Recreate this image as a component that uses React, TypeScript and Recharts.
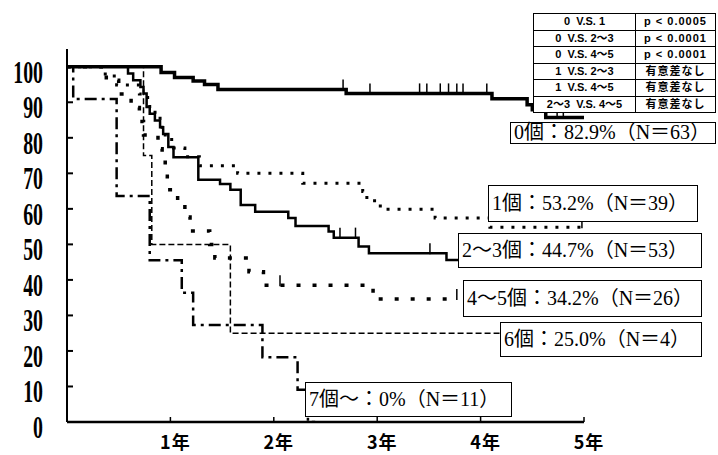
import React from "react";
import { LineChart, Line, XAxis, YAxis } from "recharts";

// 生存曲線（年, %）。各群：イベント時点・生存率・観察終了・打ち切り
const T0 = [0, 0.91, 1.04, 1.22, 1.33, 1.46, 2.7, 4.11, 4.45, 4.5, 4.63];
const S0 = [100, 98.4, 97.0, 96.0, 95.0, 93.6, 92.5, 91.0, 89.3, 87.9, 85.7];
const E0 = 5.0;
const C0 = [2.67, 2.93, 3.41, 3.48, 3.61, 3.69, 3.77, 3.83, 4.06, 4.74, 4.8];

const T1 = [0, 0.37, 0.48, 0.7, 0.78, 0.8, 0.9, 0.92, 0.95, 1.03, 1.14, 1.28, 1.65, 2.28, 2.86, 2.9, 3.03, 3.56, 4.09];
const S1 = [100, 97.4, 94.9, 92.3, 89.7, 87.2, 84.6, 82.1, 79.5, 77.1, 74.7, 72.1, 70.0, 67.2, 64.9, 62.3, 59.9, 57.4, 54.8];
const E1 = 4.98;
const C1 = [4.98];

const T23 = [0, 0.59, 0.64, 0.71, 0.74, 0.77, 0.8, 0.85, 0.9, 0.93, 0.98, 1.03, 1.27, 1.48, 1.58, 1.68, 1.82, 2.14, 2.21, 2.53, 2.58, 2.82, 2.92, 3.67];
const S23 = [100, 98.1, 96.2, 94.3, 92.5, 88.7, 86.8, 84.9, 83.0, 81.1, 77.4, 74.5, 68.2, 67.0, 65.4, 61.1, 59.2, 57.4, 55.2, 53.6, 51.9, 49.4, 47.5, 45.6];
const E23 = 3.8;
const C23 = [2.64, 2.79, 3.51];

const T45 = [0, 0.38, 0.5, 0.62, 0.7, 0.74, 0.88, 0.92, 0.95, 0.97, 1.07, 1.14, 1.19, 1.38, 1.43, 1.76, 1.9, 2.96];
const S45 = [100, 96.2, 92.3, 88.5, 84.6, 80.8, 76.9, 73.1, 69.2, 65.4, 61.5, 57.7, 53.8, 50.0, 46.2, 42.3, 38.5, 34.6];
const E45 = 3.78;
const C45 = [2.06, 3.77];

const T6 = [0, 0.74, 0.82, 1.58];
const S6 = [100, 75, 50, 25];
const E6 = 4.2;
const C6: number[] = [];

const T7 = [0, 0.06, 0.48, 0.8, 1.11, 1.22, 1.89, 2.23, 2.33];
const S7 = [100, 90.9, 63.6, 45.5, 36.4, 27.3, 18.2, 9.1, 0];
const E7 = 2.4;
const C7: number[] = [];

const Y_TICKS = [0, 10, 20, 30, 40, 50, 60, 70, 80, 90, 100];
const X_TICKS = [1, 2, 3, 4, 5];

const LABELS = [
  { text: "0個：82.9%（N＝63）", left: 510, top: 122, width: 206, height: 22 },
  { text: "1個：53.2%（N＝39）", left: 488, top: 185, width: 210, height: 37 },
  { text: "2～3個：44.7%（N＝53）", left: 458, top: 233, width: 244, height: 35 },
  { text: "4～5個：34.2%（N＝26）", left: 463, top: 280, width: 239, height: 37 },
  { text: "6個：25.0%（N＝4）", left: 500, top: 322, width: 202, height: 35 },
  { text: "7個～：0%（N＝11）", left: 305, top: 382, width: 207, height: 35 },
];

const TABLE_L = ["0  V.S. 1", "0  V.S. 2～3", "0  V.S. 4～5", "1  V.S. 2～3", "1  V.S. 4～5", "2～3  V.S. 4～5"];
const TABLE_R = ["p < 0.0005", "p < 0.0001", "p < 0.0001", "有意差なし", "有意差なし", "有意差なし"];

function km(times: number[], surv: number[], end: number, cens: number[]) {
  const pts: { t: number; v: number; c?: boolean }[] = times.map((t, i) => ({ t, v: surv[i] }));
  pts.push({ t: end, v: surv[surv.length - 1] });
  cens.forEach((c) => {
    let v = surv[0];
    times.forEach((t, i) => {
      if (t <= c) v = surv[i];
    });
    pts.push({ t: c, v, c: true });
  });
  return pts.sort((a, b) => a.t - b.t);
}

const censorDot = (p: any) => {
  if (!p.payload || !p.payload.c) return <g key={p.index} />;
  return <line key={p.index} x1={p.cx} x2={p.cx} y1={p.cy - 10} y2={p.cy + 1} stroke="#000" strokeWidth={1.5} />;
};

const YTick = (props: any) => {
  const { x, y, payload } = props;
  return (
    <g>
      <line x1={x} x2={x + 6} y1={y} y2={y} stroke="#000" strokeWidth={2} />
      <text
        transform={`translate(${x - 24},${y + 5}) scale(0.62,1)`}
        textAnchor="end"
        dominantBaseline="central"
        fontFamily="Liberation Serif"
        fontWeight="bold"
        fontSize={32}
        fill="#000"
      >
        {payload.value}
      </text>
    </g>
  );
};

const XTick = (props: any) => {
  const { x, y, payload } = props;
  return (
    <g>
      <line x1={x} x2={x} y1={y} y2={y - 5} stroke="#000" strokeWidth={1.5} />
      <text
        x={x + 5}
        y={y + 27}
        textAnchor="middle"
        fontFamily="Noto Sans CJK JP"
        fontWeight="bold"
        fontSize={18}
        letterSpacing={1}
        fill="#000"
      >
        {payload.value}年
      </text>
    </g>
  );
};

const SERIES = [
  { name: "0個", data: km(T0, S0, E0, C0), w: 3.5, dash: undefined },
  { name: "1個", data: km(T1, S1, E1, C1), w: 3, dash: "3 8" },
  { name: "2～3個", data: km(T23, S23, E23, C23), w: 2.5, dash: undefined },
  { name: "4～5個", data: km(T45, S45, E45, C45), w: 3.5, dash: "4 12" },
  { name: "6個", data: km(T6, S6, E6, C6), w: 1.5, dash: "6 3" },
  { name: "7個～", data: km(T7, S7, E7, C7), w: 2.5, dash: "12 5 3 5" },
];

export default function App() {
  return (
    <div style={{ position: "absolute", left: 0, top: 0, width: 718, height: 455, background: "#fff" }}>
      <LineChart width={718} height={455} margin={{ top: 49, right: 134, bottom: 0, left: 0 }}>
        <XAxis
          type="number"
          dataKey="t"
          domain={[0, 5]}
          ticks={X_TICKS}
          height={33}
          tickSize={0}
          tickMargin={0}
          tickLine={false}
          axisLine={{ stroke: "#000", strokeWidth: 2.5 }}
          tick={<XTick />}
          allowDataOverflow
        />
        <YAxis
          type="number"
          domain={[0, 105]}
          ticks={Y_TICKS}
          width={67}
          tickSize={0}
          tickMargin={0}
          tickLine={false}
          axisLine={{ stroke: "#000", strokeWidth: 2 }}
          tick={<YTick />}
          allowDataOverflow
        />
        {SERIES.map((s) => (
          <Line
            key={s.name}
            data={s.data}
            dataKey="v"
            type="stepAfter"
            stroke="#000"
            strokeWidth={s.w}
            strokeDasharray={s.dash}
            dot={censorDot}
            activeDot={false}
            isAnimationActive={false}
          />
        ))}
      </LineChart>

      <table
        style={{
          position: "absolute",
          left: 533,
          top: 13,
          width: 183,
          height: 100,
          borderCollapse: "collapse",
          background: "#fff",
          fontFamily: "Liberation Sans, Noto Sans CJK JP",
          fontWeight: "bold",
          fontSize: 11,
          lineHeight: "11px",
        }}
      >
        <tbody>
          {TABLE_L.map((l, i) => (
            <tr key={i}>
              <td style={{ border: "1.2px solid #000", width: 101, padding: 0, textAlign: "center", whiteSpace: "pre" }}>{l}</td>
              <td style={{ border: "1.2px solid #000", padding: 0, textAlign: "center", letterSpacing: 1 }}>{TABLE_R[i]}</td>
            </tr>
          ))}
        </tbody>
      </table>

      {LABELS.map((b) => (
        <div
          key={b.text}
          style={{
            position: "absolute",
            left: b.left,
            top: b.top,
            width: b.width,
            height: b.height,
            boxSizing: "border-box",
            border: "1.5px solid #000",
            background: "#fff",
            fontFamily: "Liberation Serif, Noto Sans CJK JP",
            fontSize: 20,
            lineHeight: `${b.height - 3}px`,
            paddingLeft: 3,
            whiteSpace: "nowrap",
          }}
        >
          {b.text}
        </div>
      ))}
    </div>
  );
}
